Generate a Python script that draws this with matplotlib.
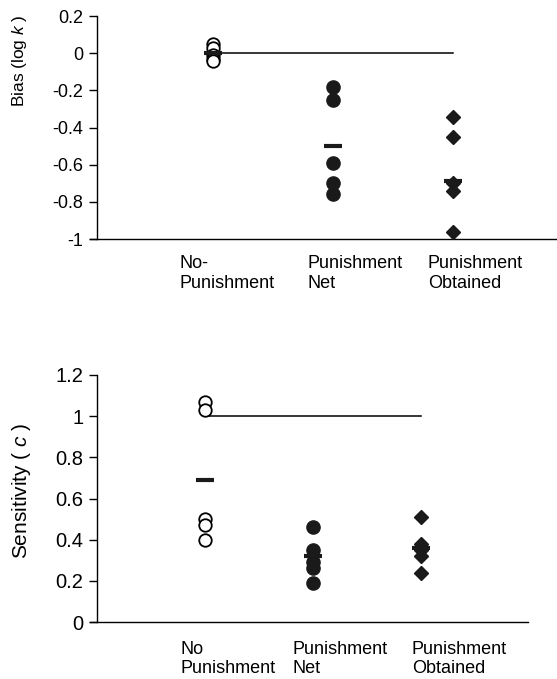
import matplotlib
matplotlib.use("Agg")
import matplotlib.pyplot as plt
import matplotlib.transforms as mtransforms

plt.rcParams['font.family'] = ['Liberation Sans', 'DejaVu Sans']
plt.rcParams['mathtext.fontset'] = 'custom'
plt.rcParams['mathtext.it'] = 'Liberation Sans:italic'
plt.rcParams['mathtext.rm'] = 'Liberation Sans'

# --- data ---
bias_labels = ["No-\nPunishment", "Punishment\nNet", "Punishment\nObtained"]
bias_no_pun = [0.05, 0.03, -0.01, -0.03, -0.04]
bias_pun_net = [-0.18, -0.25, -0.59, -0.70, -0.76]
bias_pun_obt = [-0.345, -0.45, -0.70, -0.74, -0.96]
bias_means = [0.0, -0.50, -0.69]
bias_ref = 0.0
bias_ticks = [0.2, 0, -0.2, -0.4, -0.6, -0.8, -1]

sens_labels = ["No\nPunishment", "Punishment\nNet", "Punishment\nObtained"]
sens_no_pun = [1.07, 1.03, 0.50, 0.47, 0.40]
sens_pun_net = [0.46, 0.35, 0.29, 0.26, 0.19]
sens_pun_obt = [0.51, 0.38, 0.35, 0.32, 0.24]
sens_means = [0.69, 0.32, 0.36]
sens_ref = 1.0
sens_ticks = [0, 0.2, 0.4, 0.6, 0.8, 1, 1.2]


def draw_panel(ax, groups, means, ref, ticks, labels, xlim, spine_x,
               label_dx, label_y0, ylabel, ylabel_size, tick_size, label_y):
    xs = [1, 2, 3]
    ax.plot([xs[0], xs[-1]], [ref, ref], color='black', lw=1.1, zorder=1)
    styles = [dict(marker='o', mfc='white', mec='black', mew=1.3, ms=9),
              dict(marker='o', mfc='#1a1a1a', mec='#1a1a1a', ms=9.5),
              dict(marker='D', mfc='#1a1a1a', mec='#1a1a1a', ms=7)]
    for x, vals, st in zip(xs, groups, styles):
        ax.plot([x] * len(vals), vals, ls='none', zorder=3, **st)
    ax.plot(xs, means, ls='none', marker='_', ms=13, mew=3,
            color='#1a1a1a', zorder=4)

    ax.set_xlim(*xlim)
    ax.set_ylim(min(ticks), max(ticks))
    ax.set_yticks(ticks)
    ax.set_yticklabels([f"{t:g}" for t in ticks])
    ax.spines['top'].set_visible(False)
    ax.spines['right'].set_visible(False)
    ax.spines['left'].set_position(('data', spine_x))
    ax.spines['left'].set_linewidth(1.0)
    ax.spines['bottom'].set_linewidth(1.0)
    ax.set_xticks([])
    ax.tick_params(axis='y', direction='out', length=6, width=1,
                   labelsize=tick_size, pad=4)
    ax.set_ylabel(ylabel, fontsize=ylabel_size)
    ax.yaxis.set_label_coords(-0.13, label_y)

    trans = mtransforms.blended_transform_factory(ax.transData, ax.transAxes)
    for x, lab, dx in zip(xs, labels, label_dx):
        ax.text(x + dx, label_y0, lab, transform=trans, ha='left', va='top',
                fontsize=13, linespacing=1.2)


fig = plt.figure(figsize=(5.57, 6.79), dpi=100)
ax1 = fig.add_axes([90 / 557, 1 - 239 / 679, 467 / 557, 223 / 679])
ax2 = fig.add_axes([90 / 557, 1 - 622 / 679, 438 / 557, 247 / 679])

draw_panel(ax1, [bias_no_pun, bias_pun_net, bias_pun_obt], bias_means,
           bias_ref, bias_ticks, bias_labels, (-0.025, 3.867), 0.033,
           [-0.275, -0.21, -0.21], -0.072, r"Bias (log $k$ )", 12.5, 13, 0.80)
draw_panel(ax2, [sens_no_pun, sens_pun_net, sens_pun_obt], sens_means,
           sens_ref, sens_ticks, sens_labels, (-0.067, 3.995), 0.0,
           [-0.23, -0.186, -0.083], -0.075, r"Sensitivity ( $c$ )", 15, 14.5,
           0.53)

fig.savefig("out.png", dpi=100)
